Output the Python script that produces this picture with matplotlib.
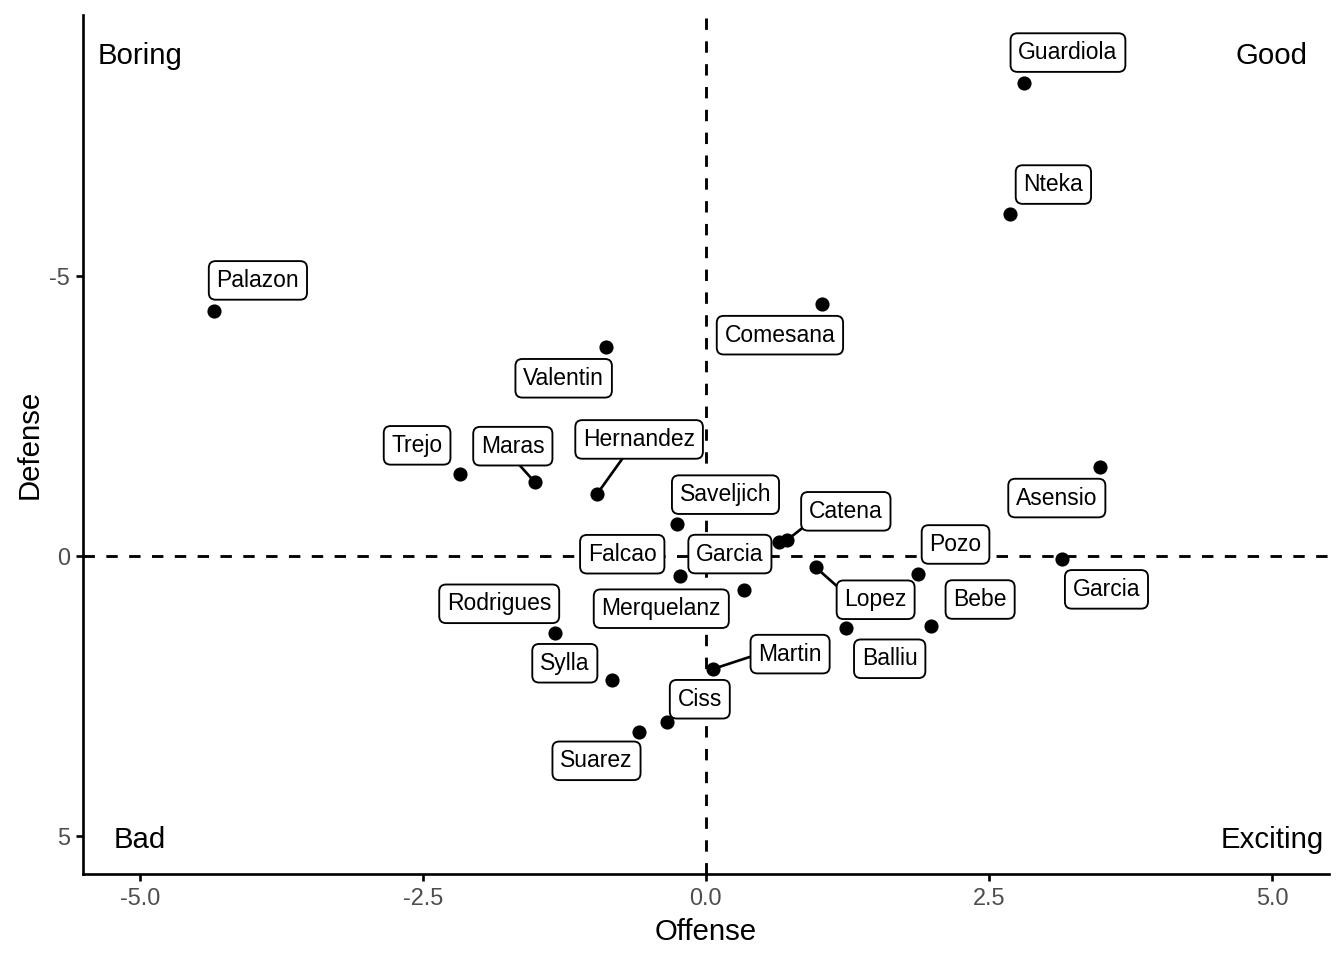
import matplotlib.pyplot as plt

plt.rcParams['font.family'] = ['Liberation Sans', 'DejaVu Sans']
plt.rcParams['axes.unicode_minus'] = False

players = ['Guardiola', 'Nteka', 'Palazon', 'Comesana', 'Valentin', 'Trejo',
           'Maras', 'Hernandez', 'Asensio', 'Saveljich', 'Catena', 'Garcia',
           'Falcao', 'Lopez', 'Pozo', 'Merquelanz', 'Balliu', 'Bebe', 'Garcia',
           'Rodrigues', 'Martin', 'Sylla', 'Ciss', 'Suarez']
offense = [2.81, 2.69, -4.34, 1.03, -0.88, -2.17, -1.51, -0.96, 3.48, -0.25,
           0.72, 0.65, -0.23, 0.97, 1.87, 0.34, 1.24, 1.99, 3.15, -1.33,
           0.06, -0.83, -0.34, -0.59]
defense = [-8.45, -6.11, -4.38, -4.50, -3.73, -1.46, -1.32, -1.11, -1.59, -0.57,
           -0.29, -0.25, 0.36, 0.20, 0.32, 0.61, 1.29, 1.25, 0.05, 1.38,
           2.02, 2.21, 2.96, 3.14]

quad_text = ['Boring', 'Good', 'Bad', 'Exciting']
quad_x = [-5, 5, -5, 5]
quad_y = [-9, -9, 5, 5]

# where the repelled labels ended up (pixel offsets from each point)
label_dx = [44, 43, 43.5, -42.5, -42.5, -43, -22, 42, -43, 48, 58.5, -49.5,
            -57.5, 60, 38, -83, 43.5, 49, 44, -56, 77.5, -47, 32.5, -42.5]
label_dy = [30.5, 29.5, 30.5, -31, -31, 29, 36, 54.5, -31, 29.5, 28.5, -12,
            22, -32.5, 29.5, -18.5, -30.5, 26.5, -30.5, 29.5, 15, 16.5, 22.5, -29]
# labels with a leader segment, and where on the box it attaches
segments = {6: (0.5, 0), 7: (0.4, 0), 10: (0, 0), 13: (0, 0.8), 20: (0, 0.5)}

fig = plt.figure(figsize=(7, 5), dpi=192)
ax = fig.add_axes([0.0618, 0.0896, 0.9885 - 0.0618, 0.984 - 0.0896])

ax.axhline(0, color='black', lw=1.07, ls=(0, (4, 4)), zorder=1)
ax.axvline(0, color='black', lw=1.07, ls=(0, (4, 4)), zorder=1)

ax.plot(offense, defense, 'o', color='black', ms=4.3, zorder=3)

for i, name in enumerate(players):
    kw = dict(xy=(offense[i], defense[i]), xytext=(label_dx[i], label_dy[i]),
              textcoords='offset pixels', ha='center', va='center', fontsize=8.6,
              bbox=dict(boxstyle='round,pad=0.34,rounding_size=0.3', fc='white',
                        ec='black', lw=0.7), zorder=4)
    if i in segments:
        kw['arrowprops'] = dict(arrowstyle='-', color='black', lw=1.0,
                                shrinkA=0, shrinkB=0, relpos=segments[i])
    ax.annotate(name, **kw)

for t, qx, qy in zip(quad_text, quad_x, quad_y):
    ax.annotate(t, (qx, qy), xytext=(0, -4), textcoords='offset pixels',
                ha='center', va='center', fontsize=11)

ax.set_xlim(-5.5, 5.5)
ax.set_ylim(5.68, -9.66)
ax.set_xticks([-5, -2.5, 0, 2.5, 5])
ax.set_xticklabels(['-5.0', '-2.5', '0.0', '2.5', '5.0'])
ax.set_yticks([-5, 0, 5])
ax.set_yticklabels(['-5', '0', '5'])

for s in ['top', 'right']:
    ax.spines[s].set_visible(False)
for s in ['left', 'bottom']:
    ax.spines[s].set_linewidth(1.0)
ax.tick_params(length=2.75, width=1.0, color='black', labelcolor='#4D4D4D',
               labelsize=8.8, pad=2.2)

ax.set_xlabel('Offense', fontsize=11, labelpad=3)
ax.set_ylabel('Defense', fontsize=11, labelpad=2)

fig.savefig('out.png', dpi=192)
